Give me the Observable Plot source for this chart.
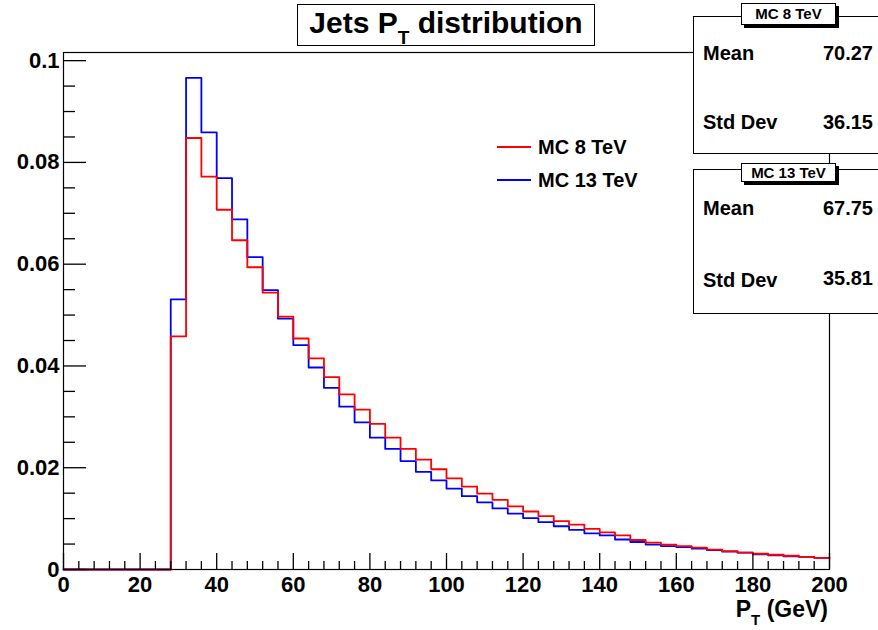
<!DOCTYPE html>
<html>
<head>
<meta charset="utf-8">
<script src="https://cdn.jsdelivr.net/npm/d3@7"></script>
<script src="https://cdn.jsdelivr.net/npm/@observablehq/plot@0.6"></script>
<style>
  html, body { margin: 0; padding: 0; background: #fff; overflow: hidden; }
  #wrap { position: relative; width: 878px; height: 630px; overflow: hidden;
          font-family: "Liberation Sans", Arial, Helvetica, sans-serif; font-weight: bold; color: #000; }
  #wrap svg { position: absolute; left: 0; top: 0; }
  .abs { position: absolute; }
  .box { position: absolute; background: #fff; border: 1px solid #000; box-sizing: border-box; }
  .hdr { position: absolute; background: #fff; border: 1px solid #000; box-sizing: border-box;
         box-shadow: 3px 3px 0 #000; font-size: 15px; text-align: center; }
  .st { position: absolute; font-size: 20px; line-height: 1; white-space: nowrap; }
  .leg { position: absolute; font-size: 20px; line-height: 1; white-space: nowrap; }
  .legline { position: absolute; height: 0; width: 34px; border-top: 2px solid; }
</style>
</head>
<body>
<div id="wrap"></div>
<script>
// ---- data ----
const binStart = [0, 4, 8, 12, 16, 20, 24, 28, 32, 36, 40, 44, 48, 52, 56, 60, 64, 68, 72, 76,
  80, 84, 88, 92, 96, 100, 104, 108, 112, 116, 120, 124, 128, 132, 136, 140, 144, 148, 152, 156,
  160, 164, 168, 172, 176, 180, 184, 188, 192, 196];
const binEnd = 200;
const mc8 = [0, 0, 0, 0, 0, 0, 0, 0.0458, 0.0848, 0.0772, 0.0707, 0.0647, 0.0594, 0.0544, 0.0497, 0.0454,
  0.0415, 0.0378, 0.0344, 0.0314, 0.0286, 0.0259, 0.0237, 0.0216, 0.0197, 0.0179, 0.0163, 0.0149,
  0.0137, 0.0124, 0.0114, 0.0105, 0.0095, 0.0088, 0.0080, 0.0073, 0.0067, 0.0058, 0.0053, 0.0049,
  0.0046, 0.0043, 0.0039, 0.0036, 0.0033, 0.0031, 0.0029, 0.0027, 0.0025, 0.0023];
const mc13 = [0, 0, 0, 0, 0, 0, 0, 0.0531, 0.0966, 0.0859, 0.0769, 0.0688, 0.0614, 0.0549, 0.0493, 0.0441,
  0.0397, 0.0357, 0.0320, 0.0289, 0.0259, 0.0237, 0.0213, 0.0192, 0.0175, 0.0159, 0.0144, 0.0132,
  0.0120, 0.0110, 0.0101, 0.0093, 0.0085, 0.0078, 0.0071, 0.0067, 0.0059, 0.0054, 0.0049, 0.0046,
  0.0044, 0.0041, 0.0038, 0.0035, 0.0033, 0.0030, 0.0028, 0.0026, 0.0025, 0.0023];
const seriesNames = ["MC 8 TeV", "MC 13 TeV"];
const seriesColors = ["#ff0000", "#0000ff"];
const statsMean = ["70.27", "67.75"];
const statsStd = ["36.15", "35.81"];
const xMajor = [0, 20, 40, 60, 80, 100, 120, 140, 160, 180, 200];
const xMinor = [4, 8, 12, 16, 24, 28, 32, 36, 44, 48, 52, 56, 64, 68, 72, 76, 84, 88, 92, 96,
  104, 108, 112, 116, 124, 128, 132, 136, 144, 148, 152, 156, 164, 168, 172, 176, 184, 188, 192, 196];
const yMajor = [0, 0.02, 0.04, 0.06, 0.08, 0.1];
const yMinor = [0.005, 0.01, 0.015, 0.025, 0.03, 0.035, 0.045, 0.05, 0.055, 0.065, 0.07, 0.075,
  0.085, 0.09, 0.095];
const titleMain = "Jets P";
const titleSub = "T";
const titleRest = " distribution";
const xLabelMain = "P";
const xLabelSub = "T";
const xLabelRest = " (GeV)";

// ---- build step table ----
function stepRows(vals, name) {
  const rows = binStart.map((x, i) => ({x, y: vals[i], s: name}));
  rows.push({x: binEnd, y: vals[vals.length - 1], s: name});
  return rows;
}
const rows8 = stepRows(mc8, seriesNames[0]);
const rows13 = stepRows(mc13, seriesNames[1]);

const chart = Plot.plot({
  width: 878,
  height: 630,
  marginLeft: 63,
  marginRight: 49,
  marginTop: 52,
  marginBottom: 61,
  style: {fontFamily: "'Liberation Sans', Arial, sans-serif", fontSize: "22px", fontWeight: "bold", background: "transparent", color: "#000"},
  x: {domain: [0, 200]},
  y: {domain: [0, 0.1016]},
  color: {domain: seriesNames, range: seriesColors},
  marks: [
    Plot.line(rows13, {x: "x", y: "y", stroke: seriesColors[1], strokeWidth: 1.8, curve: "step-after"}),
    Plot.line(rows8, {x: "x", y: "y", stroke: seriesColors[0], strokeWidth: 1.8, curve: "step-after"}),
    Plot.frame({stroke: "#000", strokeWidth: 1.2}),
    Plot.axisX({ticks: xMajor, tickSize: -16, tickPadding: 23, tickFormat: d => String(d), label: null, fontSize: 22, strokeWidth: 1.3}),
    Plot.axisX({ticks: xMinor, tickSize: -8, fill: "none", label: null, strokeWidth: 1.3}),
    Plot.axisY({ticks: yMajor, tickSize: -23, tickPadding: 27, tickFormat: d => String(d), label: null, fontSize: 22, strokeWidth: 1.3}),
    Plot.axisY({ticks: yMinor, tickSize: -12, fill: "none", label: null, strokeWidth: 1.3})
  ]
});

const wrap = document.getElementById("wrap");
wrap.appendChild(chart);

function el(cls, style, html) {
  const d = document.createElement("div");
  d.className = cls;
  Object.assign(d.style, style);
  if (html !== undefined) d.innerHTML = html;
  wrap.appendChild(d);
  return d;
}

// Title box
el("box", {left: "297px", top: "4px", width: "298px", height: "42px", border: "1.5px solid #000"});
el("abs", {left: "297px", top: "6px", width: "298px", textAlign: "center", fontSize: "30px", lineHeight: "34px", whiteSpace: "nowrap"},
  titleMain + '<span style="font-size:19px;position:relative;top:11px;">' + titleSub + '</span>' + titleRest);

// Legend
const legTop = [147, 180];
seriesNames.forEach((n, i) => {
  el("legline", {left: "497px", top: (legTop[i] - 1) + "px", borderColor: seriesColors[i]});
  el("leg", {left: "538px", top: (legTop[i] - 10) + "px"}, n);
});

// Stats boxes
const boxTop = [15.5, 168.5];
const boxH = [138, 145];
const hdrTop = [2.5, 162.5];
const hdrH = [22, 19.5];
const meanBase = [58, 213];
const stdBase = [127, 285];
const valBase = [[58, 127], [213, 283]];
seriesNames.forEach((n, i) => {
  el("box", {left: "693px", top: boxTop[i] + "px", width: "200px", height: boxH[i] + "px"});
  el("hdr", {left: "741px", top: hdrTop[i] + "px", width: "95px", height: hdrH[i] + "px", lineHeight: (hdrH[i] - 2) + "px"}, n);
  el("st", {left: "703px", top: (meanBase[i] - 15) + "px"}, "Mean");
  el("st", {left: "703px", top: (stdBase[i] - 15) + "px"}, "Std Dev");
  el("st", {right: (878 - 873) + "px", top: (valBase[i][0] - 15) + "px"}, statsMean[i]);
  el("st", {right: (878 - 873) + "px", top: (valBase[i][1] - 15) + "px"}, statsStd[i]);
});

// X axis label
el("abs", {right: (878 - 828) + "px", top: "602px", fontSize: "23px", lineHeight: "14px", whiteSpace: "nowrap"},
  xLabelMain + '<span style="font-size:15px;position:relative;top:8px;line-height:0;">' + xLabelSub + '</span>' + xLabelRest);
</script>
</body>
</html>
